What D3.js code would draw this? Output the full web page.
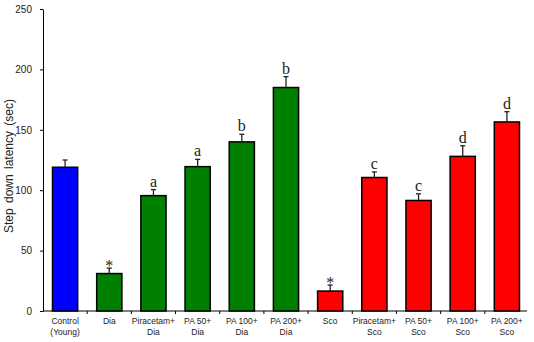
<!DOCTYPE html>
<html><head><meta charset="utf-8">
<script src="https://cdn.jsdelivr.net/npm/d3@7"></script>
<style>body{margin:0;background:#fff}svg{display:block}</style>
</head><body><svg id="c" width="534" height="342"></svg>
<script>
const categories = ["Control|(Young)","Dia","Piracetam+|Dia","PA 50+|Dia","PA 100+|Dia","PA 200+|Dia","Sco","Piracetam+|Sco","PA 50+|Sco","PA 100+|Sco","PA 200+|Sco"];
const values = [119, 31, 95.5, 119.5, 140, 185, 16.5, 110.5, 91.5, 128, 156.5];
const errors = [6, 4.5, 5, 6, 6.3, 9, 5, 4.6, 5.5, 8.8, 8.5];
const groups = ["control","dia","dia","dia","dia","dia","sco","sco","sco","sco","sco"];
const marks = ["","*","a","a","b","b","*","c","c","d","d"];
const yTicks = [0,50,100,150,200,250];
const colors = {control:"#0000ff", dia:"#008000", sco:"#ff0000"};

const svg = d3.select("#c");
const x = d3.scaleBand().domain(categories).range([43,529]).paddingInner(0.43).paddingOuter(0.215);
const y = d3.scaleLinear().domain([0,250]).range([311,9]);

const ya = svg.append("g").attr("transform","translate(43,0)")
  .call(d3.axisLeft(y).tickValues(yTicks).tickSize(3).tickSizeOuter(0));
ya.select(".domain").attr("stroke","#000");
ya.selectAll("text").attr("font-family","Liberation Sans, Arial, sans-serif").attr("font-size",10).attr("fill","#222").attr("dx",-5);

svg.append("line").attr("x1",43).attr("x2",527).attr("y1",311).attr("y2",311).attr("stroke","#000").attr("stroke-width",1.2);
const step = x.step();
svg.selectAll(".xt").data(categories.slice(1)).enter().append("line")
  .attr("x1",d=>x(d)-x.paddingInner()*step/2).attr("x2",d=>x(d)-x.paddingInner()*step/2)
  .attr("y1",311).attr("y2",314).attr("stroke","#000");

svg.selectAll(".bar").data(categories).enter().append("rect")
  .attr("x",d=>x(d)).attr("width",x.bandwidth())
  .attr("y",(d,i)=>y(values[i])).attr("height",(d,i)=>y(0)-y(values[i]))
  .attr("fill",(d,i)=>colors[groups[i]]).attr("stroke","#000").attr("stroke-width",1.5);

categories.forEach((d,i)=>{
  const cx = x(d)+x.bandwidth()/2;
  const t = y(values[i]+errors[i]);
  svg.append("line").attr("x1",cx).attr("x2",cx).attr("y1",y(values[i])).attr("y2",t).attr("stroke","#222").attr("stroke-width",1.3);
  svg.append("line").attr("x1",cx-2.5).attr("x2",cx+2.5).attr("y1",t).attr("y2",t).attr("stroke","#222").attr("stroke-width",1.3);
  if (marks[i]) {
    svg.append("text").attr("x",cx).attr("y", t - (marks[i]==="*"? -3 : 3))
      .attr("text-anchor","middle").attr("font-family","Liberation Serif, Times New Roman, serif")
      .attr("font-size", 16).attr("fill","#222").text(marks[i]);
  }
});

categories.forEach(d=>{
  const lines = d.split("|");
  const cx = x(d)+x.bandwidth()/2;
  lines.forEach((l,j)=>{
    svg.append("text").attr("x",cx).attr("y",324+j*10.8).attr("text-anchor","middle")
      .attr("font-family","Liberation Sans, Arial, sans-serif").attr("font-size",8.5).attr("fill","#222").text(l);
  });
});

svg.append("text").attr("transform","translate(13,166) rotate(-90)").attr("text-anchor","middle")
  .attr("font-family","Liberation Sans, Arial, sans-serif").attr("font-size",12).attr("fill","#222")
  .attr("word-spacing","2px").text("Step down latency (sec)");
</script></body></html>
